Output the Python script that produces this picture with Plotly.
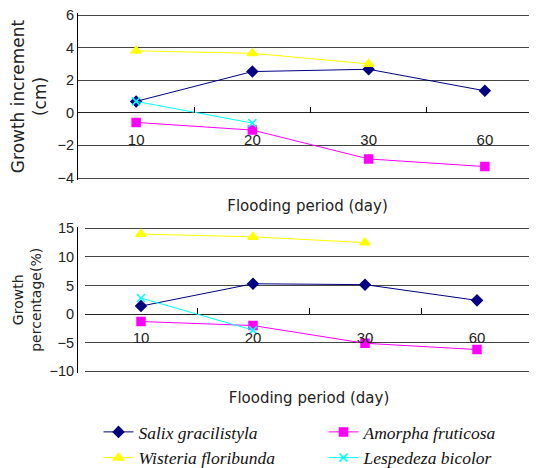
import plotly.graph_objects as go

# ---- data ----
periods = ["10", "20", "30", "60"]
species = ["Salix gracilistyla", "Amorpha fruticosa", "Wisteria floribunda", "Lespedeza bicolor"]
colors = ["#000080", "#FF00FF", "#FFFF00", "#00FFFF"]
symbols = ["diamond", "square", "triangle-up", "x-thin"]

inc_salix = [0.7, 2.53, 2.67, 1.35]
inc_amorpha = [-0.59, -1.06, -2.83, -3.3]
inc_wisteria = [3.8, 3.65, 3.0, None]
inc_lespedeza = [0.7, -0.63, None, None]

pct_salix = [1.4, 5.3, 5.15, 2.4]
pct_amorpha = [-1.3, -2.0, -5.1, -6.2]
pct_wisteria = [14.0, 13.5, 12.5, None]
pct_lespedeza = [2.8, -2.8, None, None]

increments = [inc_salix, inc_amorpha, inc_wisteria, inc_lespedeza]
percentages = [pct_salix, pct_amorpha, pct_wisteria, pct_lespedeza]

# page body has an 8px margin; figure sized to fit inside the 537x468 window
OFF = 8
W, H = 537 - OFF, 468 - OFF


def px(sx):
    return (sx - OFF) / W


def py(sy):
    return 1 - (sy - OFF) / H


PAD = 1.6  # px so that edge gridlines are drawn


def y_setup(lo, hi, sy_hi, sy_lo):
    upp = (hi - lo) / (sy_lo - sy_hi)
    rng = [lo - PAD * upp, hi + PAD * upp]
    dom = [py(sy_lo + PAD), py(sy_hi - PAD)]
    return rng, dom


top_range, top_dom = y_setup(-4, 6, 15, 178)
bot_range, bot_dom = y_setup(-10, 15, 228.3, 371.3)


def zero_pos(dom, rng):
    return dom[0] + (0 - rng[0]) / (rng[1] - rng[0]) * (dom[1] - dom[0])


fig = go.Figure()
msize = {"diamond": 8, "square": 8, "triangle-up": 9, "x-thin": 8}
for i, name in enumerate(species):
    fig.add_trace(go.Scatter(
        x=periods, y=increments[i], name="<i>" + name + "</i>",
        xaxis="x", yaxis="y", mode="lines+markers",
        line=dict(color=colors[i], width=1),
        marker=dict(symbol=symbols[i], size=msize[symbols[i]], color=colors[i],
                    line=dict(color=colors[i], width=1.5)),
        legendrank=i, connectgaps=False,
    ))
for i, name in enumerate(species):
    fig.add_trace(go.Scatter(
        x=periods, y=percentages[i], name=name, showlegend=False,
        xaxis="x2", yaxis="y2", mode="lines+markers",
        line=dict(color=colors[i], width=1),
        marker=dict(symbol=symbols[i], size=msize[symbols[i]], color=colors[i],
                    line=dict(color=colors[i], width=1.5)),
    ))

tick_font = dict(family="Liberation Sans", size=15, color="#222")
title_font = dict(family="DejaVu Sans", size=15, color="#222")

common_x = dict(type="category", categoryorder="array", categoryarray=periods,
                anchor="free", showgrid=False, zeroline=False, showline=False,
                ticks="inside", tickson="boundaries", ticklen=6, tickcolor="#000",
                tickfont=tick_font, automargin=False)
common_y = dict(showgrid=True, gridcolor="#444", gridwidth=1, zeroline=True,
                zerolinecolor="#222", zerolinewidth=1, showline=True, linecolor="#000",
                linewidth=1, ticks="", ticklabeloverflow="allow",
                tickfont=dict(family="Liberation Sans", size=14.5, color="#222"),
                automargin=False)

cat_step = 116.25
fig.update_layout(
    width=W, height=H,
    margin=dict(l=0, r=0, t=0, b=0, autoexpand=False),
    paper_bgcolor="white", plot_bgcolor="white",
    xaxis=dict(common_x, domain=[px(78), 1.0], range=[-0.5, -0.5 + (537 - 78) / cat_step],
               position=zero_pos(top_dom, top_range), ticklabelstandoff=16,
               title=dict(text="Flooding period (day)", font=title_font, standoff=53)),
    yaxis=dict(common_y, domain=top_dom, range=top_range, tickvals=[-4, -2, 0, 2, 4, 6],
               title=dict(text="Growth increment<br>(cm)", font=dict(family="DejaVu Sans", size=17, color="#222"), standoff=12)),
    xaxis2=dict(common_x, domain=[px(85), px(533)], range=[-0.5, 3.5],
                position=zero_pos(bot_dom, bot_range), ticklabelstandoff=13,
                title=dict(text="Flooding period (day)", font=title_font, standoff=47)),
    yaxis2=dict(common_y, domain=bot_dom, range=bot_range, tickvals=[-10, -5, 0, 5, 10, 15],
                mirror=True, linecolor="#000",
                title=dict(text="Growth<br>percentage(%)", font=dict(family="DejaVu Sans", size=14, color="#222"), standoff=4)),
    legend=dict(orientation="h", x=px(98.5), y=py(414), xanchor="left", yanchor="top",
                entrywidth=180, entrywidthmode="pixels", tracegroupgap=0,
                font=dict(family="Liberation Serif", size=17.5, color="#111"),
                bgcolor="rgba(0,0,0,0)"),
)

fig.write_html("out.html")
